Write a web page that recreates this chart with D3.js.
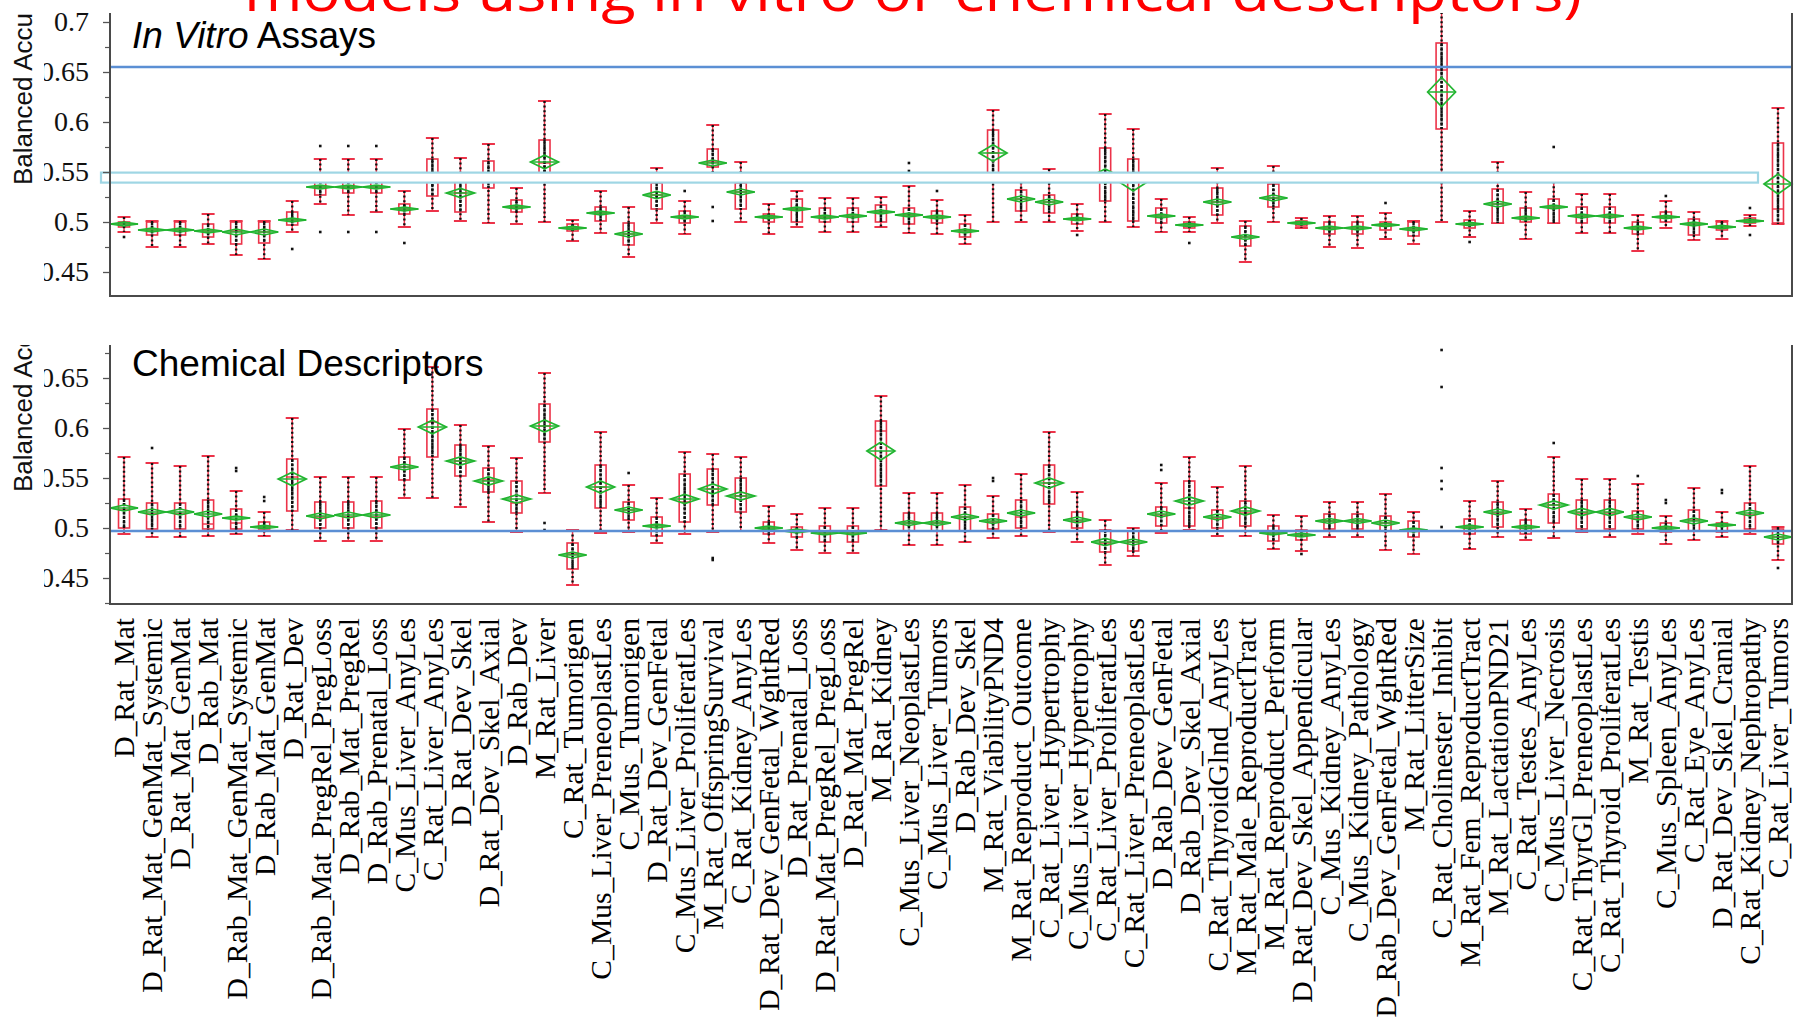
<!DOCTYPE html>
<html>
<head>
<meta charset="utf-8">
<script src="https://cdn.jsdelivr.net/npm/d3@7"></script>
<style>
  html, body { margin: 0; padding: 0; background: #fff; }
  svg { display: block; }
</style>
</head>
<body>
<svg id="chart" width="1794" height="1023"></svg>
<script>
var categories = [
  "D_Rat_Mat", "D_Rat_Mat_GenMat_Systemic", "D_Rat_Mat_GenMat", "D_Rab_Mat", "D_Rab_Mat_GenMat_Systemic",
  "D_Rab_Mat_GenMat", "D_Rat_Dev", "D_Rab_Mat_PregRel_PregLoss", "D_Rab_Mat_PregRel", "D_Rab_Prenatal_Loss",
  "C_Mus_Liver_AnyLes", "C_Rat_Liver_AnyLes", "D_Rat_Dev_Skel", "D_Rat_Dev_Skel_Axial", "D_Rab_Dev",
  "M_Rat_Liver", "C_Rat_Tumorigen", "C_Mus_Liver_PreneoplastLes", "C_Mus_Tumorigen", "D_Rat_Dev_GenFetal",
  "C_Mus_Liver_ProliferatLes", "M_Rat_OffspringSurvival", "C_Rat_Kidney_AnyLes", "D_Rat_Dev_GenFetal_WghtRed", "D_Rat_Prenatal_Loss",
  "D_Rat_Mat_PregRel_PregLoss", "D_Rat_Mat_PregRel", "M_Rat_Kidney", "C_Mus_Liver_NeoplastLes", "C_Mus_Liver_Tumors",
  "D_Rab_Dev_Skel", "M_Rat_ViabilityPND4", "M_Rat_Reproduct_Outcome", "C_Rat_Liver_Hypertrophy", "C_Mus_Liver_Hypertrophy",
  "C_Rat_Liver_ProliferatLes", "C_Rat_Liver_PreneoplastLes", "D_Rab_Dev_GenFetal", "D_Rab_Dev_Skel_Axial", "C_Rat_ThyroidGlnd_AnyLes",
  "M_Rat_Male_ReproductTract", "M_Rat_Reproduct_Perform", "D_Rat_Dev_Skel_Appendicular", "C_Mus_Kidney_AnyLes", "C_Mus_Kidney_Pathology",
  "D_Rab_Dev_GenFetal_WghtRed", "M_Rat_LitterSize", "C_Rat_Cholinester_Inhibit", "M_Rat_Fem_ReproductTract", "M_Rat_LactationPND21",
  "C_Rat_Testes_AnyLes", "C_Mus_Liver_Necrosis", "C_Rat_ThyrGl_PreneoplastLes", "C_Rat_Thyroid_ProliferatLes", "M_Rat_Testis",
  "C_Mus_Spleen_AnyLes", "C_Rat_Eye_AnyLes", "D_Rat_Dev_Skel_Cranial", "C_Rat_Kidney_Nephropathy", "C_Rat_Liver_Tumors"
];

// In vitro assays panel (balanced accuracy per endpoint)
var vitroLow = [.490,.475,.475,.478,.467,.463,.490,.518,.507,.510, .495,.511,.501,.499,.498,.500,.481,.489,.465,.499,
  .488,.549,.500,.488,.495,.490,.490,.495,.489,.488, .478,.500,.500,.500,.491,.500,.495,.490,.490,.499,
  .460,.500,.494,.475,.474,.483,.478,.500,.485,.499, .483,.499,.489,.489,.471,.494,.482,.483,.496,.498];
var vitroQ1 = [.495,.487,.487,.485,.478,.479,.497,.527,.529,.529, .508,.526,.510,.534,.510,.545,.491,.501,.477,.513,
  .499,.555,.513,.500,.500,.500,.500,.500,.498,.499, .485,.545,.511,.509,.498,.521,.501,.499,.494,.507,
  .476,.515,.496,.488,.488,.492,.486,.593,.494,.499, .500,.499,.499,.499,.488,.500,.487,.492,.499,.499];
var vitroMed = [.498,.492,.492,.491,.491,.490,.502,.535,.535,.535, .513,.544,.529,.546,.515,.559,.494,.509,.488,.527,
  .505,.560,.530,.505,.513,.505,.506,.510,.507,.505, .491,.569,.523,.520,.503,.546,.540,.506,.497,.520,
  .485,.524,.499,.494,.494,.497,.493,.652,.498,.518, .504,.515,.506,.506,.494,.505,.498,.495,.501,.513];
var vitroQ3 = [.500,.500,.500,.498,.500,.500,.510,.541,.541,.541, .518,.563,.543,.561,.522,.582,.498,.515,.499,.539,
  .511,.573,.539,.508,.523,.514,.514,.517,.514,.511, .498,.592,.532,.527,.508,.574,.563,.514,.500,.534,
  .496,.538,.501,.500,.500,.500,.500,.679,.502,.533, .514,.523,.515,.515,.500,.510,.503,.500,.504,.579];
var vitroHigh = [.505,.501,.501,.508,.501,.501,.521,.563,.563,.563, .531,.584,.564,.578,.534,.621,.502,.531,.515,.554,
  .521,.597,.560,.518,.531,.524,.524,.525,.536,.522, .507,.612,.549,.553,.518,.608,.593,.523,.505,.554,
  .501,.556,.504,.506,.506,.509,.501,.710,.511,.560, .530,.545,.528,.528,.507,.521,.510,.501,.507,.614];
var vitroMean = [.498,.492,.492,.491,.490,.490,.502,.535,.535,.535, .513,.545,.529,.545,.515,.560,.494,.509,.488,.527,
  .505,.559,.530,.505,.513,.505,.506,.510,.507,.505, .491,.569,.523,.520,.503,.546,.540,.506,.497,.520,
  .485,.524,.499,.494,.494,.497,.493,.630,.498,.518, .504,.515,.506,.506,.494,.505,.498,.495,.501,.538];
var vitroCI = [.002,.002,.002,.002,.003,.003,.002,.002,.002,.002, .002,.004,.0045,.004,.002,.0067,.0015,.002,.003,.0035,
  .002,.003,.003,.0015,.002,.002,.002,.002,.002,.002, .002,.0083,.003,.003,.0015,.007,.009,.002,.0015,.003,
  .0025,.003,.001,.002,.002,.0015,.002,.0145,.0015,.003, .002,.002,.002,.002,.002,.0015,.002,.0015,.001,.010];
var vitroOutliers = [[.485],[],[],[],[],[],[.473],[.576,.490],[.576,.490],[.576,.490],
  [.479],[],[],[],[],[],[],[],[],[],
  [.531],[.515,.501],[],[],[],[],[],[],[.559,.551],[.531],
  [],[],[],[],[.487],[],[],[],[.479],[],
  [],[],[],[],[],[.519],[],[],[.480],[],
  [],[.575],[],[],[],[.526],[],[],[.514,.487],[]];

// Chemical descriptors panel
var chemLow = [.494,.491,.491,.492,.494,.492,.498,.487,.487,.487, .530,.530,.521,.506,.496,.535,.443,.495,.496,.485,
  .494,.496,.497,.485,.478,.475,.475,.498,.483,.483, .486,.490,.492,.496,.486,.463,.472,.495,.498,.492,
  .492,.479,.477,.491,.491,.478,.474,null,.479,.491, .488,.490,.496,.491,.494,.484,.488,.491,.494,.468];
var chemQ1 = [.500,.499,.499,.499,.499,.499,.517,.500,.500,.500, .548,.571,.552,.536,.515,.586,.459,.520,.508,.492,
  .506,.523,.516,.494,.491,.486,.486,.542,.497,.497, .497,.499,.500,.524,.500,.476,.477,.502,.502,.500,
  .502,.487,.488,.499,.499,.497,.491,null,.494,.501, .494,.505,.499,.499,.499,.496,.497,.496,.499,.484];
var chemMed = [.518,.514,.514,.504,.505,.501,.551,.511,.511,.511, .561,.606,.567,.548,.525,.602,.474,.541,.518,.503,
  .526,.539,.532,.500,.497,.495,.495,.597,.505,.505, .511,.506,.511,.545,.507,.485,.486,.513,.520,.510,
  .515,.495,.493,.507,.507,.505,.498,null,.501,.515, .501,.523,.515,.515,.509,.500,.508,.503,.513,.491];
var chemQ3 = [.529,.525,.525,.528,.519,.506,.569,.526,.526,.527, .571,.619,.583,.560,.547,.624,.485,.563,.526,.511,
  .554,.559,.550,.506,.501,.502,.502,.607,.515,.515, .521,.514,.528,.563,.516,.498,.497,.521,.547,.518,
  .527,.502,.498,.514,.514,.512,.507,null,.509,.526, .508,.534,.528,.528,.517,.505,.518,.505,.525,.499];
var chemHigh = [.571,.565,.562,.572,.537,.516,.610,.551,.551,.551, .599,.661,.603,.582,.570,.655,.498,.596,.543,.530,
  .576,.574,.571,.522,.514,.520,.520,.632,.535,.535, .543,.532,.554,.596,.536,.508,.500,.545,.571,.541,
  .562,.513,.512,.526,.526,.534,.516,null,.527,.547, .519,.571,.549,.549,.544,.512,.540,.516,.562,.501];
var chemMean = [.520,.516,.516,.514,.510,.501,.549,.512,.513,.513, .561,.601,.567,.547,.529,.602,.473,.541,.518,.502,
  .529,.539,.532,.500,.497,.495,.495,.577,.505,.505, .511,.507,.515,.545,.508,.486,.486,.514,.527,.511,
  .517,.495,.493,.507,.507,.505,.498,null,.501,.516, .501,.523,.516,.516,.511,.500,.507,.503,.515,.491];
var chemCI = [.003,.003,.003,.003,.002,.0015,.0067,.003,.003,.003, .003,.0067,.004,.004,.004,.006,.003,.006,.003,.002,
  .0045,.005,.004,.002,.002,.002,.002,.009,.0025,.0025, .003,.0025,.003,.005,.003,.0035,.003,.003,.004,.003,
  .004,.002,.002,.0025,.0025,.003,.002,null,.002,.003, .002,.004,.0035,.0035,.003,.002,.003,.0015,.003,.003];
var chemOutliers = [[],[.580],[],[],[.560,.557],[.531,.527],[],[],[],[],
  [],[],[],[],[],[.505,.498],[],[],[.555],[],
  [],[.470,.468],[],[],[],[],[],[],[],[],
  [],[.550,.547],[],[],[],[],[],[.563,.558],[],[],
  [],[],[.474],[],[],[],[],[.678,.641,.560,.547,.539,.501],[],[],
  [],[.585],[],[],[.552],[.528,.525],[],[.538,.535],[],[.460]];

var vitroTicks = [0.45, 0.5, 0.55, 0.6, 0.65, 0.7];
var vitroMinor = [0.475, 0.525, 0.575, 0.625, 0.675];
var chemTicks = [0.45, 0.5, 0.55, 0.6, 0.65];
var chemMinor = [0.425, 0.475, 0.525, 0.575, 0.625, 0.675];

var vitroRef = 0.655;             // blue reference line
var vitroBand = [0.5394, 0.5494]; // cyan highlight box
var chemRef = 0.497;

var RED = "#ec3349", GREEN = "#22b530", BLUE = "#5b8fd4";

var svg = d3.select("#chart");
var x = d3.scaleBand().domain(categories).range([110, 1792]);
var boxW = 11, diaW = 28;

function cx(d) { return x(d.name) + x.bandwidth() / 2; }

function drawPanel(p) {
  var y = d3.scaleLinear().domain(p.domain).range([p.bottom, p.top]);
  var g = svg.append("g");

  var defs = svg.append("defs");
  defs.append("clipPath").attr("id", "plot-" + p.id).append("rect")
    .attr("x", 0).attr("y", p.top).attr("width", 1794).attr("height", p.bottom - p.top + 2);
  defs.append("clipPath").attr("id", "lab-" + p.id).append("rect")
    .attr("x", 44).attr("y", p.top).attr("width", 1750).attr("height", p.bottom - p.top + 2);

  var rows = categories.map(function (c, i) {
    return { name: c, lo: p.low[i], q1: p.q1[i], med: p.med[i], q3: p.q3[i], hi: p.high[i],
             mean: p.mean[i], ci: p.ci[i], out: p.outliers[i] };
  });
  var boxes = rows.filter(function (d) { return d.lo != null; });

  var plot = g.append("g").attr("clip-path", "url(#plot-" + p.id + ")");

  // whiskers
  plot.selectAll("line.whisk").data(boxes).enter().append("line")
    .attr("x1", cx).attr("x2", cx)
    .attr("y1", function (d) { return y(d.hi); })
    .attr("y2", function (d) { return y(d.lo); })
    .attr("stroke", RED).attr("stroke-width", 1.5);
  ["hi", "lo"].forEach(function (k) {
    plot.selectAll("line.cap-" + k).data(boxes).enter().append("line")
      .attr("x1", function (d) { return cx(d) - boxW / 2 - 1; })
      .attr("x2", function (d) { return cx(d) + boxW / 2 + 1; })
      .attr("y1", function (d) { return y(d[k]); })
      .attr("y2", function (d) { return y(d[k]); })
      .attr("stroke", RED).attr("stroke-width", 2);
  });

  // quantile boxes
  plot.selectAll("rect.box").data(boxes).enter().append("rect")
    .attr("x", function (d) { return cx(d) - boxW / 2; })
    .attr("y", function (d) { return y(d.q3); })
    .attr("width", boxW)
    .attr("height", function (d) { return Math.max(1, y(d.q1) - y(d.q3)); })
    .attr("fill", "#fff").attr("stroke", RED).attr("stroke-width", 1.6);
  plot.selectAll("line.med").data(boxes).enter().append("line")
    .attr("x1", function (d) { return cx(d) - boxW / 2; })
    .attr("x2", function (d) { return cx(d) + boxW / 2; })
    .attr("y1", function (d) { return y(d.med); })
    .attr("y2", function (d) { return y(d.med); })
    .attr("stroke", RED).attr("stroke-width", 1.4);

  // points column (the jittered points read as a dotted column)
  plot.selectAll("line.pts").data(boxes).enter().append("line")
    .attr("x1", cx).attr("x2", cx)
    .attr("y1", function (d) { return y(d.hi); })
    .attr("y2", function (d) { return y(d.lo); })
    .attr("stroke", "#111").attr("stroke-width", 2.4).attr("stroke-dasharray", "2,2.6");
  plot.selectAll("line.pts-in").data(boxes).enter().append("line")
    .attr("x1", cx).attr("x2", cx)
    .attr("y1", function (d) { return y(d.q3); })
    .attr("y2", function (d) { return y(d.q1); })
    .attr("stroke", "#111").attr("stroke-width", 2.4).attr("stroke-dasharray", "3,1.2");

  var outs = [];
  rows.forEach(function (d) { d.out.forEach(function (v) { outs.push({ name: d.name, v: v }); }); });
  plot.selectAll("rect.out").data(outs).enter().append("rect")
    .attr("x", function (d) { return cx(d) - 1.3; })
    .attr("y", function (d) { return y(d.v) - 1.3; })
    .attr("width", 2.6).attr("height", 2.6).attr("fill", "#111");

  // means diamonds
  plot.selectAll("path.dia").data(boxes).enter().append("path")
    .attr("d", function (d) {
      var c = cx(d), m = y(d.mean), h = Math.max(1.6, y(d.mean - d.ci) - m);
      return "M" + (c - diaW / 2) + "," + m + "L" + c + "," + (m - h) + "L" + (c + diaW / 2) + "," + m +
             "L" + c + "," + (m + h) + "Z";
    })
    .attr("fill", "none").attr("stroke", GREEN).attr("stroke-width", 1.7);
  plot.selectAll("line.mean").data(boxes).enter().append("line")
    .attr("x1", function (d) { return cx(d) - diaW / 2; })
    .attr("x2", function (d) { return cx(d) + diaW / 2; })
    .attr("y1", function (d) { return y(d.mean); })
    .attr("y2", function (d) { return y(d.mean); })
    .attr("stroke", GREEN).attr("stroke-width", 1.5);

  if (p.band) {
    g.append("rect")
      .attr("x", 101).attr("y", y(p.band[1]))
      .attr("width", 1758 - 101).attr("height", y(p.band[0]) - y(p.band[1]))
      .attr("fill", "#fff").attr("stroke", "#9fd6e4").attr("stroke-width", 2.2);
  }
  g.append("line")
    .attr("x1", 110).attr("x2", 1792)
    .attr("y1", y(p.ref)).attr("y2", y(p.ref))
    .attr("stroke", BLUE).attr("stroke-width", 2.6);

  // axes and frame
  var labClip = g.append("g").attr("clip-path", "url(#lab-" + p.id + ")");
  var yAxis = labClip.append("g").attr("transform", "translate(110,0)")
    .call(d3.axisLeft(y).tickValues(p.ticks).tickSize(7).tickSizeOuter(0)
      .tickFormat(function (d) { return String(+d.toFixed(2)); }));
  yAxis.select(".domain").remove();
  yAxis.selectAll("line").attr("stroke", "#555").attr("stroke-width", 1.3);
  yAxis.selectAll("text").attr("x", -21)
    .style("font-family", "'Liberation Serif', 'Times New Roman', serif")
    .style("font-size", "28px").attr("fill", "#111");
  var minor = g.append("g").attr("transform", "translate(110,0)")
    .call(d3.axisLeft(y).tickValues(p.minor).tickSize(5).tickFormat(""));
  minor.select(".domain").remove();
  minor.selectAll("line").attr("stroke", "#555").attr("stroke-width", 1.2);

  g.append("path")
    .attr("d", "M110," + p.top + "V" + p.bottom + "H1792V" + p.top)
    .attr("fill", "none").attr("stroke", "#4a4a4a").attr("stroke-width", 2);

  g.append("g").attr("clip-path", "url(#plot-" + p.id + ")")
    .append("text")
    .attr("transform", "translate(23," + p.titleY + ") rotate(-90)")
    .attr("dy", "0.35em")
    .style("font-family", "'Liberation Sans', Arial, sans-serif")
    .style("font-size", "26px").attr("fill", "#111")
    .text("Balanced Accuracy");

  var t = g.append("text").attr("x", 132).attr("y", p.labelY)
    .style("font-family", "'Liberation Sans', Arial, sans-serif")
    .style("font-size", "37px").attr("fill", "#000");
  p.label.forEach(function (part) {
    t.append("tspan").style("font-style", part[1] ? "italic" : "normal").text(part[0]);
  });
  return y;
}

drawPanel({
  id: "vitro", top: 13, bottom: 296, domain: [0.426, 0.709],
  low: vitroLow, q1: vitroQ1, med: vitroMed, q3: vitroQ3, high: vitroHigh,
  mean: vitroMean, ci: vitroCI, outliers: vitroOutliers,
  ticks: vitroTicks, minor: vitroMinor, ref: vitroRef, band: vitroBand,
  titleY: 185, labelY: 48, label: [["In Vitro", true], [" Assays", false]]
});

drawPanel({
  id: "chem", top: 345, bottom: 604, domain: [0.424, 0.683],
  low: chemLow, q1: chemQ1, med: chemMed, q3: chemQ3, high: chemHigh,
  mean: chemMean, ci: chemCI, outliers: chemOutliers,
  ticks: chemTicks, minor: chemMinor, ref: chemRef, band: null,
  titleY: 492, labelY: 376, label: [["Chemical Descriptors", false]]
});

// category labels under the lower panel
svg.append("g").selectAll("text").data(categories).enter().append("text")
  .attr("transform", function (d) { return "translate(" + (x(d) + x.bandwidth() / 2) + ",618) rotate(-90)"; })
  .attr("dy", "0.35em")
  .attr("text-anchor", "end")
  .style("font-family", "'Liberation Serif', 'Times New Roman', serif")
  .style("font-size", "29.6px").attr("fill", "#000")
  .text(function (d) { return d; });

// slide title, cut off by the top of the page
svg.append("text")
  .attr("x", 244).attr("y", 11)
  .attr("textLength", 1338).attr("lengthAdjust", "spacingAndGlyphs")
  .style("font-family", "'Open Sans', 'Noto Sans', sans-serif")
  .style("font-size", "54px").attr("fill", "#ff0000")
  .text("models using in vitro or chemical descriptors)");
</script>
</body>
</html>
